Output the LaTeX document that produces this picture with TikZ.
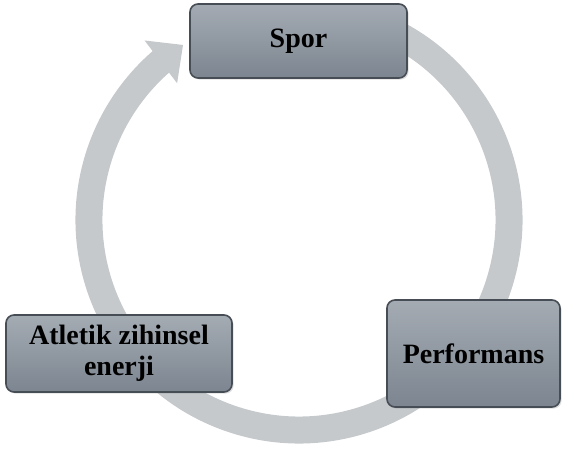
\documentclass[tikz,border=0pt]{standalone}
\usepackage{fontspec}
\setmainfont{Liberation Serif}
\usepackage{xcolor}
\usetikzlibrary{calc,arrows.meta,bending,shadows}
\definecolor{ringgray}{HTML}{C5C9CC}
\definecolor{boxtop}{HTML}{A4ABB3}
\definecolor{boxbottom}{HTML}{7C8590}
\definecolor{boxline}{HTML}{474D55}
\tikzstyle{cyclebox} = [draw=boxline, thick, rectangle, rounded corners=4pt,
top color=boxtop, bottom color=boxbottom, inner sep=2pt, align=center,
font=\fontsize{14}{15.5}\selectfont\bfseries,
drop shadow={opacity=0.25, shadow xshift=0.8pt, shadow yshift=-0.8pt}]
\tikzstyle{cyclering} = [draw=ringgray, line width=13.5pt,
-{Triangle[width=26pt, length=14pt]}]

\begin{document}
\begin{tikzpicture}[x=0.5pt, y=0.5pt]
        \useasboundingbox (0,0) rectangle (563,449);
        \coordinate (centre) at (299,229);
        \draw[cyclering] ($(centre)+(72:105pt)$) arc[start angle=72, end angle=-236.5, radius=105pt];
        \node[cyclebox, minimum width=108.5pt, minimum height=37pt] (spor) at (298.5,408) {Spor};
        \node[cyclebox, minimum width=86.5pt, minimum height=53.5pt] (performans) at (473.5,95.5) {Performans};
        \node[cyclebox, minimum width=113pt, minimum height=38.5pt] (atletik) at (119,95.5) {Atletik zihinsel\\enerji};
    \end{tikzpicture}
\end{document}
